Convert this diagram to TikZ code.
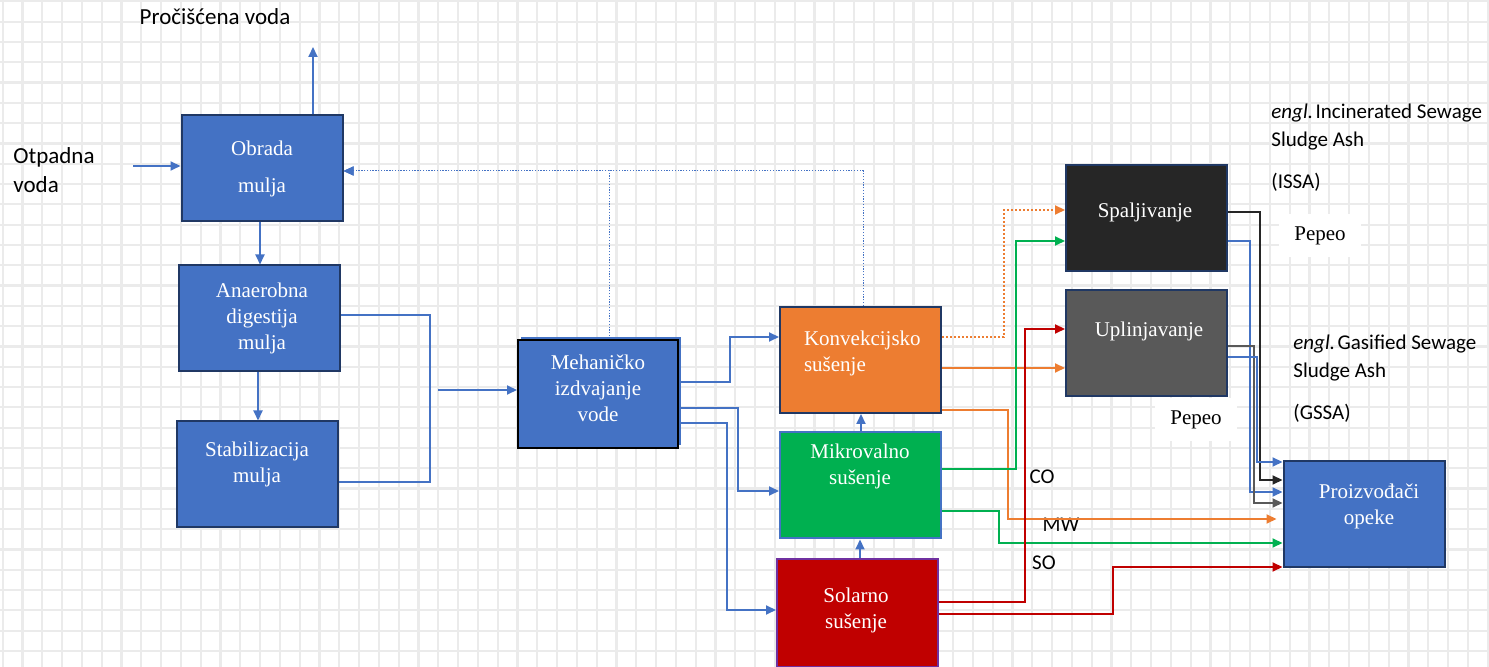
\documentclass[tikz,border=0pt]{standalone}
\usepackage{fontspec}
\setmainfont{Liberation Serif}
\newfontfamily\natpisfont{Carlito}
\usetikzlibrary{arrows.meta,calc}

\definecolor{plava}{HTML}{4472C4}
\definecolor{narand}{HTML}{ED7D31}
\definecolor{zelena}{HTML}{00B050}
\definecolor{crvena}{HTML}{C00000}
\definecolor{tamna}{HTML}{262626}
\definecolor{siva}{HTML}{595959}
\definecolor{okvir}{HTML}{203864}
\definecolor{ljub}{HTML}{7030A0}
\definecolor{mreza}{HTML}{EBEBEB}

\tikzset{
    blok/.style={draw=okvir, line width=1pt, minimum width=80.5pt, minimum height=53pt, inner sep=0pt},
    btxt/.style={text=white, align=center, font=\fontsize{10.5}{13}\selectfont},
    natpis/.style={align=left, inner sep=0pt, font=\natpisfont\fontsize{10.5}{14}\selectfont},
    pepeo/.style={fill=white, minimum width=41pt, minimum height=21.5pt, font=\fontsize{10.5}{13}\selectfont},
    tip/.style={-{Triangle[length=5pt,width=4.5pt]}},
    veza/.style={tip, line width=1pt},
    tocke/.style={tip, plava, line width=0.5pt, dash pattern=on 0.6pt off 0.8pt},
}

\begin{document}
\begin{tikzpicture}[x=0.5pt, y=-0.5pt]
    \useasboundingbox (0,0) rectangle (1489,667);
    \fill[white] (0,0) rectangle (1489,667);
    \foreach \gx in {2.7,22.5,...,1489} {
        \draw[mreza, line width=1.1pt] (\gx,0) -- (\gx,667);
    }
    \foreach \gy in {1.4,21.7,...,667} {
        \draw[mreza, line width=1.1pt] (0,\gy) -- (1489,\gy);
    }

    % blokovi
    \node[blok, fill=plava] (obr) at (262,168.5) {};
    \node[btxt] (obrT) at (262,169) {Obrada\\[5.5pt]mulja};
    \node[blok, fill=plava] (anae) at (259.5,318.5) {};
    \node[btxt] (anaeT) at (262,318) {Anaerobna\\digestija\\mulja};
    \node[blok, fill=plava] (stab) at (257,474.5) {};
    \node[btxt] (stabT) at (257,464) {Stabilizacija\\mulja};
    \fill[plava] (521,337) rectangle (681,445);
    \node[blok, fill=plava, draw=black, minimum width=80pt, minimum height=54pt] (meh) at (598,394) {};
    \node[btxt] (mehT) at (598,388) {Mehaničko\\izdvajanje\\vode};
    \node[blok, fill=narand] (konv) at (860.5,360) {};
    \node[btxt, anchor=west, align=left] (konvT) at (797,353.5) {Konvekcijsko\\sušenje};
    \node[blok, fill=zelena, draw=plava] (mikro) at (860.5,485.5) {};
    \node[btxt] (mikroT) at (860,466) {Mikrovalno\\sušenje};
    \node[blok, fill=crvena, draw=ljub, minimum height=54pt] (sol) at (857.5,613) {};
    \node[btxt] (solT) at (856,610) {Solarno\\sušenje};
    \node[blok, fill=tamna] (spal) at (1146.5,218.5) {};
    \node[btxt] (spalT) at (1145,212) {Spaljivanje};
    \node[blok, fill=siva] (upl) at (1146.5,343) {};
    \node[btxt] (uplT) at (1149,331) {Uplinjavanje};
    \node[blok, fill=plava] (proiz) at (1364,514) {};
    \node[btxt] (proizT) at (1369,506) {Proizvođači\\opeke};

    % natpisi
    \node[natpis, anchor=west, font=\natpisfont\fontsize{11.5}{14.5}\selectfont] (otp) at (13,170) {Otpadna\\voda};
    \node[natpis, font=\natpisfont\fontsize{11.5}{14.5}\selectfont] (proc) at (215,17) {Pročišćena voda};
    \node[natpis, anchor=west] (issa) at (1271,127) {\textit{engl.}\hspace{0.12em}Incinerated Sewage\\Sludge Ash};
    \node[natpis, anchor=west] (issaK) at (1271,182) {(ISSA)};
    \node[natpis, anchor=west] (gssa) at (1293,358.5) {\textit{engl.}\hspace{0.12em}Gasified Sewage\\Sludge Ash};
    \node[natpis, anchor=west] (gssaK) at (1293,413) {(GSSA)};
    \node[natpis] (co) at (1042,477) {CO};
    \node[natpis] (mw) at (1061,525) {MW};
    \node[natpis] (so) at (1044,563) {SO};
    \node[pepeo] (pep1) at (1320,236) {Pepeo};
    \node[pepeo] (pep2) at (1196,420) {Pepeo};

    % veze
    \coordinate (ulaz) at (133,166);
    \coordinate (izlaz) at (313,47);
    \coordinate (spoj) at (438,390);
    \draw[veza, plava] (ulaz) -- (obr.west |- ulaz);
    \draw[veza, plava] (313,0 |- obr.north) -- (izlaz);
    \draw[veza, plava] (obr.south -| 260,0) -- (anae.north -| 260,0);
    \draw[veza, plava] (anae.south -| 258,0) -- (stab.north -| 258,0);
    \draw[plava, line width=0.7pt] (anae.east |- 0,315) -- (430,315) -- (430,482) -- (stab.east |- 0,482);
    \draw[veza, plava] (spoj) -- (meh.west |- spoj);

    \draw[veza, plava] (meh.east |- 0,382) -- (730,382) |- (konv.west |- 0,337);
    \draw[veza, plava] (meh.east |- 0,408) -- (738,408) |- (mikro.west |- 0,491);
    \draw[veza, plava] (meh.east |- 0,423) -- (727,423) |- (sol.west |- 0,610);
    \draw[veza, plava] (mikro.north -| 861,0) -- (konv.south -| 861,0);
    \draw[veza, plava] (sol.north -| 860,0) -- (mikro.south -| 860,0);

    \draw[tocke] (609,0 |- meh.north) -- (609,171) -- (obr.east |- 0,171);
    \draw[tocke] (863,0 |- konv.north) -- (863,171) -- (obr.east |- 0,171);

    \draw[tip, narand, line width=1pt, dash pattern=on 1pt off 1pt] (konv.east |- 0,337) -- (1004,337) |- (spal.west |- 0,210);
    \draw[veza, narand] (konv.east |- 0,368) -- (upl.west |- 0,368);
    \draw[veza, narand, shorten >=3pt] (konv.east |- 0,410) -- (1008,410) |- (proiz.west |- 0,519);
    \draw[veza, zelena] (mikro.east |- 0,469) -- (1016,469) |- (spal.west |- 0,241);
    \draw[veza, zelena] (mikro.east |- 0,511) -- (999,511) |- (proiz.west |- 0,543);
    \draw[veza, crvena] (sol.east |- 0,602) -- (1025,602) |- (upl.west |- 0,329);
    \draw[veza, crvena] (sol.east |- 0,614) -- (1113,614) |- (proiz.west |- 0,567);

    \draw[veza, tamna] (spal.east |- 0,212) -- (1260,212) |- (proiz.west |- 0,480);
    \draw[veza, plava] (spal.east |- 0,241) -- (1250,241) |- (proiz.west |- 0,492);
    \draw[veza, siva] (upl.east |- 0,346) -- (1254,346) |- (proiz.west |- 0,503);
    \draw[veza, plava] (upl.east |- 0,357) -- (1257,357) |- (proiz.west |- 0,462);
\end{tikzpicture}
\end{document}
